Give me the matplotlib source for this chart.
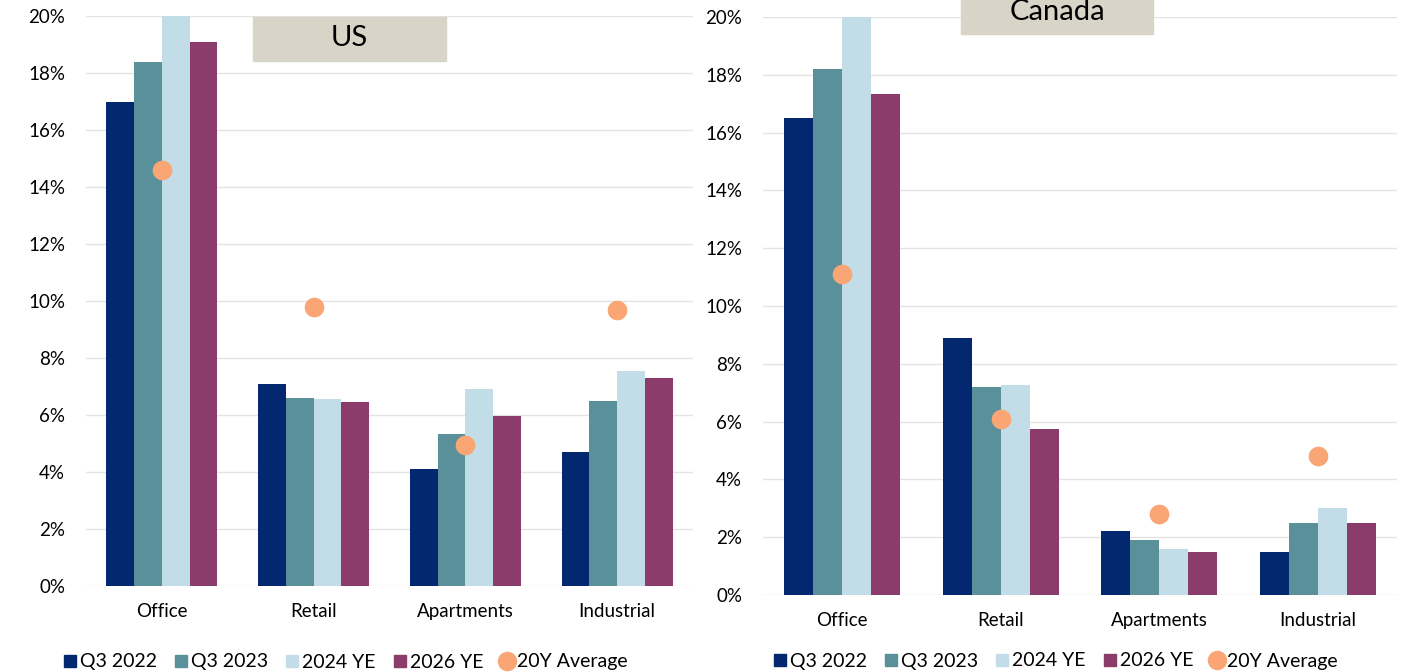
import matplotlib.pyplot as plt
import numpy as np
from matplotlib.patches import Rectangle
from matplotlib.lines import Line2D
from matplotlib.ticker import PercentFormatter

plt.rcParams['font.family'] = ['Lato', 'DejaVu Sans']

categories = ['Office', 'Retail', 'Apartments', 'Industrial']
series = ['Q3 2022', 'Q3 2023', '2024 YE', '2026 YE']

us_q3_2022 = [17.0, 7.1, 4.1, 4.7]
us_q3_2023 = [18.4, 6.6, 5.35, 6.5]
us_2024_ye = [20.0, 6.55, 6.9, 7.55]
us_2026_ye = [19.1, 6.45, 5.95, 7.3]
us_20y_avg = [14.6, 9.8, 4.95, 9.7]

ca_q3_2022 = [16.5, 8.9, 2.2, 1.5]
ca_q3_2023 = [18.2, 7.2, 1.9, 2.5]
ca_2024_ye = [20.0, 7.25, 1.6, 3.0]
ca_2026_ye = [17.35, 5.75, 1.5, 2.5]
ca_20y_avg = [11.1, 6.1, 2.8, 4.8]

colors = ['#03286f', '#5a9099', '#c3dde8', '#8b3c6b']
dot_color = '#f9a574'
box_color = '#d8d4c7'

W, H = 1418, 672
fig = plt.figure(figsize=(W / 100, H / 100), dpi=100)


def px_axes(x0, x1, y_top, y_bot):
    return fig.add_axes([x0 / W, 1 - y_bot / H, (x1 - x0) / W, (y_bot - y_top) / H])


def draw_panel(ax, bars, avg):
    x = np.arange(len(categories))
    width = 0.73 / len(bars)
    for i, vals in enumerate(bars):
        ax.bar(x + (i - 1.5) * width, vals, width, color=colors[i], zorder=2)
    ax.scatter(x, avg, s=200, color=dot_color, zorder=3, linewidths=0)
    ax.set_xlim(-0.5, len(categories) - 0.5)
    ax.set_ylim(0, 20)
    ax.set_yticks(np.arange(0, 21, 2))
    ax.yaxis.set_major_formatter(PercentFormatter(decimals=0))
    ax.set_xticks(x)
    ax.set_xticklabels(categories, fontsize=13.5)
    ax.tick_params(axis='x', length=0, pad=12)
    ax.tick_params(axis='y', length=0, pad=15, labelsize=13.5)
    ax.grid(axis='y', color='#e3e3e3', linewidth=1, zorder=0)
    for s in ax.spines.values():
        s.set_visible(False)


ax1 = px_axes(86, 693, 16, 586)
draw_panel(ax1, [us_q3_2022, us_q3_2023, us_2024_ye, us_2026_ye], us_20y_avg)
ax2 = px_axes(763, 1397, 17, 595)
draw_panel(ax2, [ca_q3_2022, ca_q3_2023, ca_2024_ye, ca_2026_ye], ca_20y_avg)

# title boxes
for (x0, x1, y0, y1, label, ty) in [(253, 446, 17, 61, 'US', 38), (961, 1153, -10, 34, 'Canada', 12)]:
    fig.patches.append(Rectangle((x0 / W, 1 - y1 / H), (x1 - x0) / W, (y1 - y0) / H,
                                 transform=fig.transFigure, color=box_color, zorder=5))
    fig.text((x0 + x1) / 2 / W, 1 - ty / H, label, ha='center', va='center',
             fontsize=21, zorder=6)

handles = [Line2D([], [], marker='s', linestyle='none', color=c, markersize=8) for c in colors]
handles.append(Line2D([], [], marker='o', linestyle='none', color=dot_color, markersize=13))
labels = series + ['20Y Average']
for cx, cy in [(346, 662), (1056, 661)]:
    fig.legend(handles, labels, loc='center', bbox_to_anchor=(cx / W, 1 - cy / H),
               ncol=5, frameon=False, fontsize=14, handlelength=0.6, handletextpad=0.2,
               columnspacing=0.95, borderpad=0)

fig.savefig('out.png', dpi=100)
